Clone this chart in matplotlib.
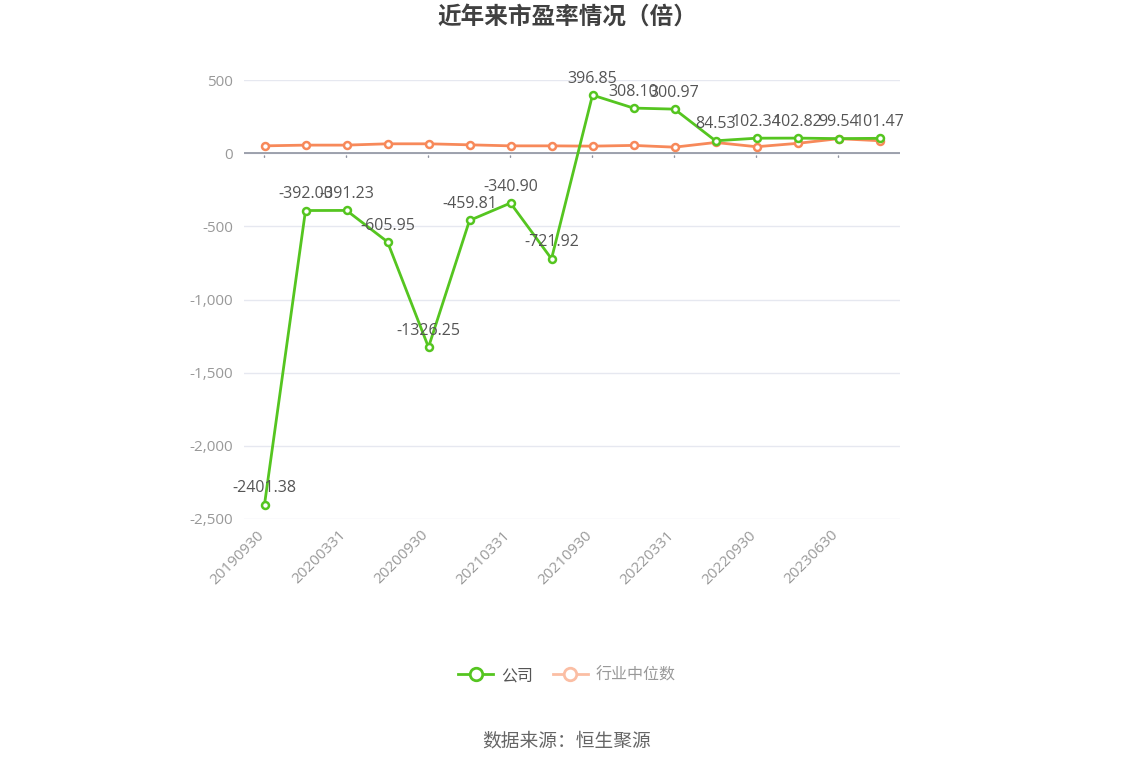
import matplotlib
matplotlib.use("Agg")
import matplotlib.pyplot as plt
from matplotlib.lines import Line2D
from matplotlib.ticker import FuncFormatter

plt.rcParams['font.family'] = ['Open Sans', 'Noto Sans CJK SC', 'DejaVu Sans']

categories = ["20190930", "20191231", "20200331", "20200630", "20200930", "20201231",
              "20210331", "20210630", "20210930", "20211231", "20220331", "20220630",
              "20220930", "20230331", "20230630", "20230930"]
company = [-2401.38, -392.00, -391.23, -605.95, -1326.25, -459.81, -340.90, -721.92,
           396.85, 308.10, 300.97, 84.53, 102.34, 102.82, 99.54, 101.47]
industry = [50, 55, 55, 64, 64, 57, 50, 50, 48, 53, 41, 73, 44, 67, 99, 85]

title = "近年来市盈率情况（倍）"
series_names = ["公司", "行业中位数"]
source = "数据来源：恒生聚源"

green = "#55c520"
orange = "#f7895a"

W, H = 1134, 766
fig = plt.figure(figsize=(W / 100, H / 100), dpi=100)
ax = fig.add_axes([244 / W, 1 - 519 / H, (900 - 244) / W, (519 - 80) / H])

x = list(range(len(categories)))
ax.set_xlim(-0.5, len(categories) - 0.5)
ax.set_ylim(-2500, 500)
ax.set_yticks(range(-2500, 501, 500))
ax.yaxis.set_major_formatter(FuncFormatter(lambda v, p: f"{int(v):,}"))
ax.grid(axis='y', color='#e6e8f0', linewidth=1)
ax.set_axisbelow(True)
for s in ax.spines.values():
    s.set_visible(False)
ax.axhline(0, color='#8f93a0', linewidth=1.2, zorder=2)
ax.tick_params(axis='y', length=0, colors='#999999', labelsize=11, pad=8)
ax.set_xticks([])

# ticks hanging from zero line
tick_idx = x[::2]
for i in tick_idx:
    ax.annotate("", xy=(i, 0), xytext=(0, -5), textcoords='offset points',
                arrowprops=dict(arrowstyle='-', color='#8f93a0', lw=1))
    ax.annotate(categories[i], xy=(i, -2500), xytext=(-2, -10), textcoords='offset points',
                ha='right', va='center', rotation=45, rotation_mode='anchor',
                color='#999999', fontsize=11)

ax.plot(x, industry, color=orange, linewidth=2, marker='o', markersize=5,
        markerfacecolor='white', markeredgecolor=orange, markeredgewidth=1.8, zorder=3)
ax.plot(x, company, color=green, linewidth=2, marker='o', markersize=5,
        markerfacecolor='white', markeredgecolor=green, markeredgewidth=1.8, zorder=4)

for i, v in zip(x, company):
    ax.annotate(f"{v:.2f}", xy=(i, v), xytext=(0, 6), textcoords='offset points',
                ha='center', va='bottom', color='#555555', fontsize=11.5, zorder=5)

fig.text(0.5, 1 - 18 / H, title, ha='center', va='center', fontsize=17,
         fontweight='bold', color='#404040')

handles = [
    Line2D([0], [0], color=green, linewidth=2, marker='o', markersize=9,
           markerfacecolor='white', markeredgecolor=green, markeredgewidth=2),
    Line2D([0], [0], color='#fbbea4', linewidth=2, marker='o', markersize=9,
           markerfacecolor='white', markeredgecolor='#fbbea4', markeredgewidth=2),
]
leg = fig.legend(handles, series_names, loc='center', bbox_to_anchor=(0.5, 1 - 676 / H),
                 ncol=2, frameon=False, fontsize=11.5, handlelength=2.2,
                 columnspacing=1.2, handletextpad=0.5)
leg.get_texts()[0].set_color('#555555')
leg.get_texts()[1].set_color('#999999')

fig.text(0.5, 1 - 741 / H, source, ha='center', va='center', fontsize=13.5, color='#666666')

fig.savefig("out.png", dpi=100, facecolor='white')
